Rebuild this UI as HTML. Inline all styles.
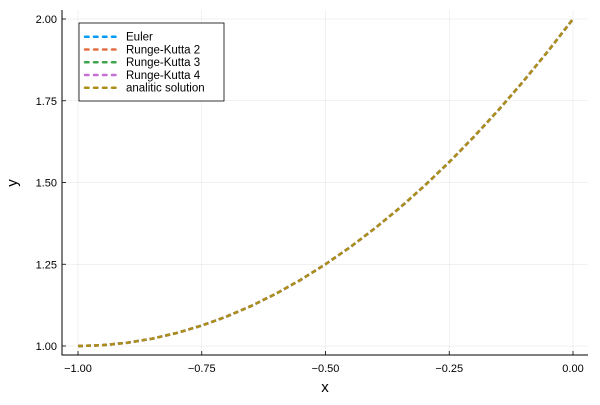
<!DOCTYPE html>
<html><head><meta charset="utf-8"><style>
body{margin:0;background:#fff;}
svg{font-family:"Liberation Sans","DejaVu Sans",sans-serif;}
</style></head><body>
<svg id="chart" width="600" height="400">
<rect width="600" height="400" fill="#fff"/>
<g id="grid"></g>
<g id="axes"></g>
<g id="series"></g>
<g id="legend"></g>
</svg>
<script>
const xValues=[-1,-0.95,-0.9,-0.85,-0.8,-0.75,-0.7,-0.65,-0.6,-0.55,-0.5,-0.45,-0.4,-0.35,-0.3,-0.25,-0.2,-0.15,-0.1,-0.05,0];
const eulerY=[1,1.0025,1.01,1.0225,1.04,1.0625,1.09,1.1225,1.16,1.2025,1.25,1.3025,1.36,1.4225,1.49,1.5625,1.64,1.7225,1.81,1.9025,2];
const rk2Y=[1,1.0025,1.01,1.0225,1.04,1.0625,1.09,1.1225,1.16,1.2025,1.25,1.3025,1.36,1.4225,1.49,1.5625,1.64,1.7225,1.81,1.9025,2];
const rk3Y=[1,1.0025,1.01,1.0225,1.04,1.0625,1.09,1.1225,1.16,1.2025,1.25,1.3025,1.36,1.4225,1.49,1.5625,1.64,1.7225,1.81,1.9025,2];
const rk4Y=[1,1.0025,1.01,1.0225,1.04,1.0625,1.09,1.1225,1.16,1.2025,1.25,1.3025,1.36,1.4225,1.49,1.5625,1.64,1.7225,1.81,1.9025,2];
const analyticY=[1,1.0025,1.01,1.0225,1.04,1.0625,1.09,1.1225,1.16,1.2025,1.25,1.3025,1.36,1.4225,1.49,1.5625,1.64,1.7225,1.81,1.9025,2];
const seriesNames=["Euler","Runge-Kutta 2","Runge-Kutta 3","Runge-Kutta 4","analitic solution"];
const xTicks=[-1,-0.75,-0.5,-0.25,0];
const xTickLabels=["\u22121.00","\u22120.75","\u22120.50","\u22120.25","0.00"];
const yTicks=[1,1.25,1.5,1.75,2];
const yTickLabels=["1.00","1.25","1.50","1.75","2.00"];

const NS="http://www.w3.org/2000/svg";
const L=62,R=588,T=10,B=355;
function sx(v){return 78+(v+1)*(573-78);}
function sy(v){return 346-(v-1)*(346-19);}
function mk(tag,attrs,parent){const e=document.createElementNS(NS,tag);for(const k in attrs)e.setAttribute(k,attrs[k]);parent.appendChild(e);return e;}
const grid=document.getElementById('grid'),axes=document.getElementById('axes'),ser=document.getElementById('series'),leg=document.getElementById('legend');
xTicks.forEach((t,i)=>{
  const g=mk('line',{x1:sx(t),x2:sx(t),y1:T,y2:B,stroke:'#000','stroke-opacity':0.1,'stroke-width':0.5},grid);
  
  
  const tk=mk('line',{x1:sx(t),x2:sx(t),y1:B,y2:B-4,stroke:'#000','stroke-width':0.8},axes);
  
  
  const tx=mk('text',{x:sx(t),y:372,'text-anchor':'middle','font-size':11,fill:'#000'},axes);
  tx.textContent=xTickLabels[i];
  
  
});
yTicks.forEach((t,i)=>{
  const g=mk('line',{x1:L,x2:R,y1:sy(t),y2:sy(t),stroke:'#000','stroke-opacity':0.1,'stroke-width':0.5},grid);
  
  
  const tk=mk('line',{x1:L,x2:L+4,y1:sy(t),y2:sy(t),stroke:'#000','stroke-width':0.8},axes);
  
  
  const tx=mk('text',{x:57,y:sy(t)+4,'text-anchor':'end','font-size':11,fill:'#000'},axes);
  tx.textContent=yTickLabels[i];
  
  
});
const ax=mk('path',{d:`M${L},${T} V${B} H${R}`,fill:'none',stroke:'#000','stroke-width':1},axes);


const xl=mk('text',{x:325,y:392,'text-anchor':'middle','font-size':15},axes);
xl.textContent='x';


const yl=mk('text',{x:17,y:183,'text-anchor':'middle','font-size':15,transform:'rotate(-90 17 183)'},axes);
yl.textContent='y';



const colors=["#009AFA","#E36F47","#3EA44E","#C371D2","#AC8E18"];
const allY=[eulerY,rk2Y,rk3Y,rk4Y,analyticY];
allY.forEach((ys,s)=>{
  const d=xValues.map((x,i)=>(i?'L':'M')+sx(x).toFixed(2)+','+sy(ys[i]).toFixed(2)).join(' ');
  const p=mk('path',{d:d,fill:'none',stroke:colors[s],'stroke-width':2.5,'stroke-dasharray':'5 3'},ser);
  
  
});
const box=mk('rect',{x:79,y:23,width:145,height:78,fill:'#fff',stroke:'#000','stroke-width':0.8},leg);


seriesNames.forEach((n,i)=>{
  const y=36.7+i*12.75;
  const ln=mk('line',{x1:85,x2:118,y1:y,y2:y,stroke:colors[i],'stroke-width':2.5,'stroke-linecap':'round','stroke-dasharray':'3.5 5.5'},leg);
  
  
  const t=mk('text',{x:126,y:y+4,'font-size':11.5,fill:'#000'},leg);
  t.textContent=n;
  
  
});
</script>
</body></html>
